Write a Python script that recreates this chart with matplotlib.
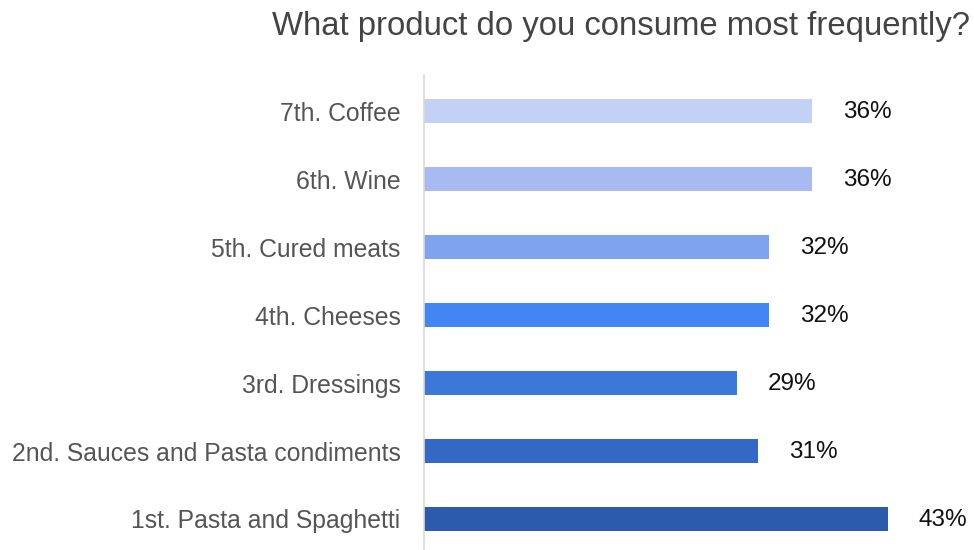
import matplotlib.pyplot as plt

plt.rcParams["font.family"] = ["Liberation Sans", "DejaVu Sans"]

# bottom to top
products = [
    "1st. Pasta and Spaghetti",
    "2nd. Sauces and Pasta condiments",
    "3rd. Dressings",
    "4th. Cheeses",
    "5th. Cured meats",
    "6th. Wine",
    "7th. Coffee",
]
shares = [43, 31, 29, 32, 32, 36, 36]
colors = ["#2c5bad", "#3369c4", "#3c78d8", "#4285f4", "#7fa3ef", "#a8baf2", "#c3d1f5"]

fig = plt.figure(figsize=(9.74, 5.5), dpi=100)
ax = fig.add_axes([424 / 974, 0, 550 / 974, 475 / 550])

ypos = range(len(products))
ax.barh(ypos, shares, height=0.34, color=colors, edgecolor="none")

for y, v in zip(ypos, shares):
    ax.annotate(f"{v}%", (v, y), xytext=(22, -1), textcoords="offset points",
                ha="left", va="center", fontsize=17.5, color="#111111")

ax.set_xlim(0, 51)
ax.set_ylim(-0.456, 6.53)
ax.set_yticks(list(ypos))
ax.set_yticklabels(products, fontsize=17.8, color="#555555")
ax.tick_params(axis="y", length=0, pad=17)
ax.set_xticks([])

for side in ["top", "right", "bottom"]:
    ax.spines[side].set_visible(False)
ax.spines["left"].set_color("#d9d9d9")
ax.spines["left"].set_linewidth(1.2)

fig.text(0.996, 0.952, "What product do you consume most frequently?",
         ha="right", va="center", fontsize=23.7, color="#444444")

fig.savefig("out.png", dpi=100)
